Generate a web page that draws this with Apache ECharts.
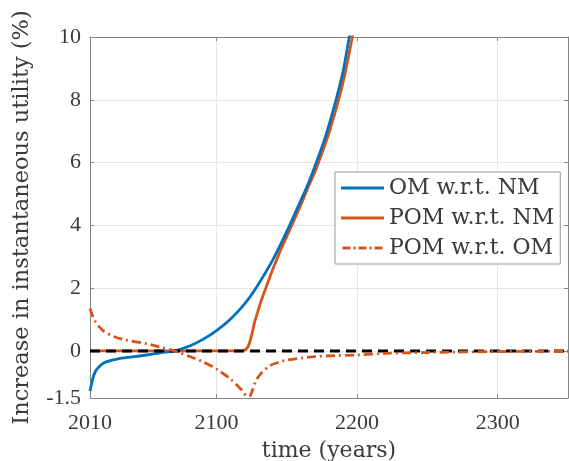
<!DOCTYPE html>
<html>
<head>
<meta charset="utf-8">
<script src="https://cdn.jsdelivr.net/npm/echarts@6/dist/echarts.min.js"></script>
<style>html,body{margin:0;padding:0;background:#fff}#c{width:569px;height:461px}</style>
</head>
<body>
<div id="c"></div>
<script>
// ---- data ----
const xTicks = [2010, 2100, 2200, 2300];
const yTicks = [-1.5, 0, 2, 4, 6, 8, 10];
const seriesNames = ['OM w.r.t. NM', 'POM w.r.t. NM', 'POM w.r.t. OM'];

const omYears = [2010, 2012, 2014, 2017, 2020, 2025, 2030, 2040, 2050, 2060, 2070, 2080, 2090, 2100, 2110, 2120, 2128, 2140, 2152, 2160, 2165, 2171, 2178, 2185, 2190, 2194, 2200];
const omVals  = [-1.28, -0.88, -0.64, -0.48, -0.38, -0.3, -0.25, -0.19, -0.13, -0.06, 0.0, 0.14, 0.36, 0.65, 1.02, 1.5, 2.0, 2.9, 4.0, 4.8, 5.3, 6.0, 6.9, 8.0, 8.9, 9.9, 11.5];

const pomYears = [2010, 2118, 2121, 2123, 2125, 2127, 2129, 2131, 2135, 2140, 2145, 2150, 2155, 2160, 2165, 2170, 2175, 2180, 2185, 2190, 2194, 2197, 2202];
const pomVals  = [0, 0, 0.05, 0.2, 0.5, 0.9, 1.2, 1.5, 2.0, 2.6, 3.15, 3.65, 4.15, 4.65, 5.2, 5.7, 6.3, 6.95, 7.7, 8.55, 9.4, 10.1, 11.4];

const relYears = [2010, 2012, 2014, 2017, 2020, 2027, 2035, 2050, 2060, 2070, 2080, 2090, 2100, 2110, 2118, 2122, 2124, 2126, 2128, 2132, 2138, 2145, 2150, 2160, 2170, 2185, 2200, 2220, 2250, 2300, 2350];
const relVals  = [1.35, 1.1, 0.92, 0.75, 0.62, 0.46, 0.35, 0.23, 0.12, 0.0, -0.16, -0.34, -0.58, -0.9, -1.25, -1.45, -1.42, -1.2, -0.95, -0.7, -0.47, -0.35, -0.29, -0.23, -0.18, -0.15, -0.13, -0.08, -0.05, -0.02, -0.01];

const zeroYears = [2010, 2350];
const zeroVals = [0, 0];

// ---- chart ----
const pair = (xs, ys) => xs.map((x, i) => [x, ys[i]]);
const serif = 'Liberation Serif';
const wideSerif = 'DejaVu Serif';
const axisGray = '#858585';
const gridGray = '#e6e6e6';
const textGray = '#3a3a3a';
const blue = '#0072BD', orange = '#D95319';

const solidIcon = 'path://M0,0h43v3h-43z';
const dashIcon = 'path://M0,0h8v3h-8z M11,0h2v3h-2z M16,0h8v3h-8z M27,0h2v3h-2z M32,0h8v3h-8z';

const chart = echarts.init(document.getElementById('c'));
chart.setOption({
  animation: false,
  backgroundColor: '#fff',
  grid: { left: 90, top: 37, right: 1, bottom: 63, outerBoundsMode: 'none', containLabel: false },
  legend: {
    data: [
      { name: seriesNames[0], icon: solidIcon },
      { name: seriesNames[1], icon: solidIcon },
      { name: seriesNames[2], icon: dashIcon }
    ],
    orient: 'vertical',
    left: 335, top: 172,
    itemWidth: 43, itemHeight: 3, itemGap: 8,
    padding: [5, 6, 5, 6],
    backgroundColor: '#fff',
    borderColor: '#999', borderWidth: 1,
    textStyle: { fontFamily: wideSerif, fontSize: 22, color: textGray }
  },
  xAxis: [{
    type: 'value', min: 2010, max: 2350, position: 'bottom',
    name: 'time (years)', nameLocation: 'middle', nameGap: 42,
    nameTextStyle: { fontFamily: wideSerif, fontSize: 22, color: textGray },
    axisLine: { show: true, onZero: false, lineStyle: { color: axisGray, width: 1 } },
    axisTick: { show: true, inside: true, length: 4, customValues: xTicks, lineStyle: { color: axisGray } },
    axisLabel: { customValues: xTicks, formatter: v => String(v), fontFamily: serif, fontSize: 22, color: textGray, margin: 14 },
    splitLine: { show: true, lineStyle: { color: gridGray, width: 1 } }
  }, {
    type: 'value', min: 2010, max: 2350, position: 'top',
    axisLine: { show: true, onZero: false, lineStyle: { color: axisGray, width: 1 } },
    axisTick: { show: true, inside: true, length: 4, customValues: xTicks, lineStyle: { color: axisGray } },
    axisLabel: { show: false },
    splitLine: { show: false }
  }],
  yAxis: [{
    type: 'value', min: -1.5, max: 10, position: 'left',
    name: 'Increase in instantaneous utility (%)', nameLocation: 'middle', nameGap: 56,
    nameTextStyle: { fontFamily: wideSerif, fontSize: 22.5, color: textGray },
    axisLine: { show: true, onZero: false, lineStyle: { color: axisGray, width: 1 } },
    axisTick: { show: true, inside: true, length: 4, customValues: yTicks, lineStyle: { color: axisGray } },
    axisLabel: { customValues: yTicks, formatter: v => String(v), fontFamily: serif, fontSize: 22, color: textGray, margin: 9 },
    splitLine: { show: true, lineStyle: { color: gridGray, width: 1 } }
  }, {
    type: 'value', min: -1.5, max: 10, position: 'right',
    axisLine: { show: true, onZero: false, lineStyle: { color: axisGray, width: 1 } },
    axisTick: { show: true, inside: true, length: 4, customValues: yTicks, lineStyle: { color: axisGray } },
    axisLabel: { show: false },
    splitLine: { show: false }
  }],
  series: [{
    name: seriesNames[0], type: 'line', data: pair(omYears, omVals),
    symbol: 'none', smooth: 0.3, clip: true, z: 3,
    lineStyle: { color: blue, width: 2.8 }, itemStyle: { color: blue }
  }, {
    name: seriesNames[1], type: 'line', data: pair(pomYears, pomVals),
    symbol: 'none', smooth: 0.15, clip: true, z: 2,
    lineStyle: { color: orange, width: 2.8 }, itemStyle: { color: orange }
  }, {
    name: 'zero', type: 'line', data: pair(zeroYears, zeroVals),
    symbol: 'none', clip: true, z: 4, silent: true,
    lineStyle: { color: '#000', width: 3, type: [10, 6] }, itemStyle: { color: '#000' }
  }, {
    name: seriesNames[2], type: 'line', data: pair(relYears, relVals),
    symbol: 'none', smooth: 0.3, clip: true, z: 5,
    lineStyle: { color: orange, width: 2.8, type: [9, 4, 2, 4] }, itemStyle: { color: orange }
  }]
});
</script>
</body>
</html>
